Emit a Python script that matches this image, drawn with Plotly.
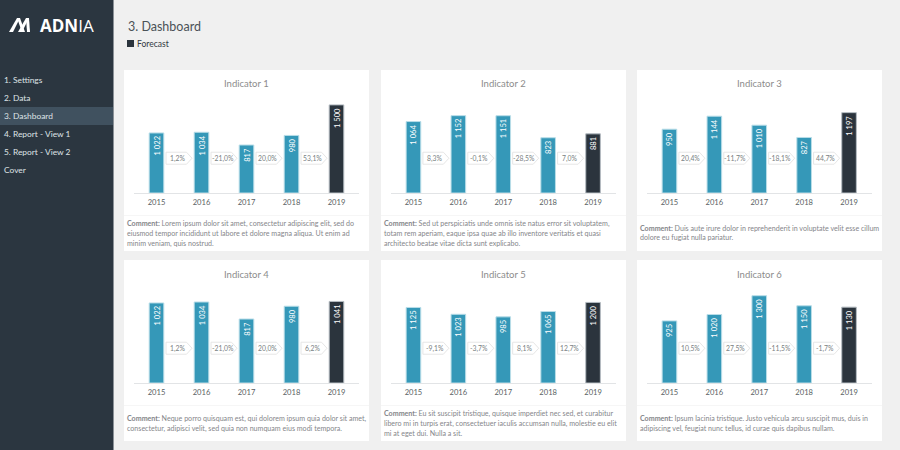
import plotly.graph_objects as go

W, H = 900, 450
FONT = "Lato"

years = ["2015", "2016", "2017", "2018", "2019"]
titles = ["Indicator 1", "Indicator 2", "Indicator 3", "Indicator 4", "Indicator 5", "Indicator 6"]
values_1 = [1022, 1034, 817, 980, 1500]
values_2 = [1064, 1152, 1151, 823, 881]
values_3 = [950, 1144, 1010, 827, 1197]
values_4 = [1022, 1034, 817, 980, 1041]
values_5 = [1125, 1023, 985, 1065, 1200]
values_6 = [925, 1020, 1300, 1150, 1130]
changes_1 = ["1,2%", "-21,0%", "20,0%", "53,1%"]
changes_2 = ["8,3%", "-0,1%", "-28,5%", "7,0%"]
changes_3 = ["20,4%", "-11,7%", "-18,1%", "44,7%"]
changes_4 = ["1,2%", "-21,0%", "20,0%", "6,2%"]
changes_5 = ["-9,1%", "-3,7%", "8,1%", "12,7%"]
changes_6 = ["10,5%", "27,5%", "-11,5%", "-1,7%"]
axis_max = [1600, 1400, 1400, 1200, 1400, 1400]
comment_1 = ["Lorem ipsum dolor sit amet, consectetur adipiscing elit, sed do",
             "eiusmod tempor incididunt ut labore et dolore magna aliqua. Ut enim ad",
             "minim veniam, quis nostrud."]
comment_2 = ["Sed ut perspiciatis unde omnis iste natus error sit voluptatem,",
             "totam rem aperiam, eaque ipsa quae ab illo inventore veritatis et quasi",
             "architecto beatae vitae dicta sunt explicabo."]
comment_3 = ["Duis aute irure dolor in reprehenderit in voluptate velit esse cillum",
             "dolore eu fugiat nulla pariatur."]
comment_4 = ["Neque porro quisquam est, qui dolorem ipsum quia dolor sit amet,",
             "consectetur, adipisci velit, sed quia non numquam eius modi tempora."]
comment_5 = ["Eu sit suscipit tristique, quisque imperdiet nec sed, et curabitur",
             "libero mi in turpis erat, consectetuer iaculis accumsan nulla, molestie eu elit",
             "mi at eget dui. Nulla a sit."]
comment_6 = ["Ipsum lacinia tristique. Justo vehicula arcu suscipit mus, duis in",
             "adipiscing vel, feugiat nunc tellus, id curae quis dapibus nullam."]
menu = ["1. Settings", "2. Data", "3. Dashboard", "4. Report - View 1", "5. Report - View 2", "Cover"]
all_values = [values_1, values_2, values_3, values_4, values_5, values_6]
all_changes = [changes_1, changes_2, changes_3, changes_4, changes_5, changes_6]
all_comments = [comment_1, comment_2, comment_3, comment_4, comment_5, comment_6]

TEAL, DARK, BG, SIDE, ACTIVE = "#3598b8", "#2b343d", "#f0f0f0", "#2b3640", "#40515f"
card_x = [(124, 369), (381, 626), (637, 882)]
plot_x = [(134, 359), (391, 615.5), (647, 871.5)]
card_y = [(70, 251), (260, 441)]
plot_y = [(99, 193), (289, 383)]
divider_y = [215, 405]


def px(x):
    return x / W


def py(y):
    return 1 - y / H


fig = go.Figure()
shapes, notes = [], []


def rect(x0, y0, x1, y1, fill):
    shapes.append(dict(type="rect", xref="paper", yref="paper", x0=px(x0), x1=px(x1),
                       y0=py(y1), y1=py(y0), fillcolor=fill, line_width=0, layer="below"))


def poly(points):
    d = " ".join(("M" if i == 0 else "L") + f" {px(x)} {py(y)}" for i, (x, y) in enumerate(points)) + " Z"
    shapes.append(dict(type="path", xref="paper", yref="paper", line_width=0, fillcolor="#ffffff", path=d))


def note(x, y, text, size, color, anchor="left", ref=("paper", "paper"), family=FONT):
    notes.append(dict(x=x, y=y, xref=ref[0], yref=ref[1], text=text, showarrow=False,
                      xanchor=anchor, yanchor="middle", align=anchor,
                      font=dict(family=family, size=size, color=color)))


# page furniture
rect(0, 0, 113, 450, SIDE)
rect(113, 0, 114, 450, "#8b9197")
rect(0, 107, 113, 125, ACTIVE)
rect(127, 40, 134, 47, DARK)
for i, item in enumerate(menu):
    note(px(1.5), py(80 + 18 * i), item, 8.4, "#dfe3e6")
note(px(125.5), py(26), "3. Dashboard", 12.5, "#4b5257")
note(px(134.5), py(44), "Forecast", 8.5, "#33393f")
note(px(38), py(25), "<b>ADN</b>IA", 17, "#ffffff", family="Open Sans")
poly([(9, 32), (17, 18), (20, 18), (13, 32)])
poly([(17, 18), (20, 18), (25, 32), (22, 32)])
poly([(18, 32), (26, 18), (29, 18), (22, 32)])
poly([(26, 18), (29, 18), (30, 32), (27, 32)])

# six cards
for n in range(6):
    row, col = divmod(n, 3)
    ax = "" if n == 0 else str(n + 1)
    xa, ya = f"xaxis{ax}", f"yaxis{ax}"
    xr, yr = f"x{ax}", f"y{ax}"
    rect(card_x[col][0], card_y[row][0], card_x[col][1], card_y[row][1], "#ffffff")
    rect(card_x[col][0], divider_y[row], card_x[col][1], divider_y[row] + 1, "#f6f6f6")

    vals = all_values[n]
    fig.add_trace(go.Bar(
        x=years, y=vals, xaxis=xr, yaxis=yr, width=0.325, showlegend=False,
        marker=dict(color=[TEAL] * 4 + [DARK], line=dict(color=["#b9dde8"] * 4 + ["#b5bcc2"], width=1)),
        text=[f"{v:,}".replace(",", " ") for v in vals], textangle=-90,
        textposition="inside", insidetextanchor="end", constraintext="none",
        textfont=dict(family=FONT, size=7.6, color="#ffffff"), hoverinfo="skip",
    ))
    fig.update_layout({
        xa: dict(domain=[px(plot_x[col][0]), px(plot_x[col][1])], anchor=yr, type="category",
                 range=[-0.5, 4.5], fixedrange=True, showgrid=False, showline=True, linecolor="#e2e4e6",
                 linewidth=1, ticks="", ticklen=0, ticklabelstandoff=2,
                 tickfont=dict(family=FONT, size=7.6, color="#5a5f63")),
        ya: dict(domain=[py(plot_y[row][1]), py(plot_y[row][0])], anchor=xr, range=[0, axis_max[n]],
                 fixedrange=True, visible=False),
    })
    mid = axis_max[n] * 0.37
    for i, change in enumerate(all_changes[n]):
        shapes.append(dict(type="path", xref=xr, yref=yr, xsizemode="pixel", ysizemode="pixel",
                           xanchor=i + 0.5, yanchor=mid, path="M -13 -6 L 7.5 -6 L 13 0 L 7.5 6 L -13 6 Z",
                           fillcolor="#ffffff", line=dict(color="#e6e6e6", width=1)))
        note(i + 0.5 - 0.03, mid, change, 6.8, "#7a7f83", "center", (xr, yr))
    note(px((plot_x[col][0] + plot_x[col][1]) / 2), py(card_y[row][0] + 14), titles[n], 9.5, "#8c8c8c", "center")
    lines = all_comments[n]
    first_y = divider_y[row] + (8 if len(lines) == 3 else 13)
    for k, line in enumerate(lines):
        text = f"<b>Comment:</b> {line}" if k == 0 else line
        note(px(card_x[col][0] + 1), py(first_y + 10 * k), text, 7.1, "#85868a")

fig.update_layout(width=W, height=H, margin=dict(l=0, r=0, t=0, b=0), autosize=False, paper_bgcolor=BG,
                  plot_bgcolor="rgba(0,0,0,0)", shapes=shapes, annotations=notes, showlegend=False,
                  font=dict(family=FONT))
fig.write_html("out.html", config=dict(displayModeBar=False),
               post_script="document.body.style.margin='0';document.body.style.overflow='hidden';")
